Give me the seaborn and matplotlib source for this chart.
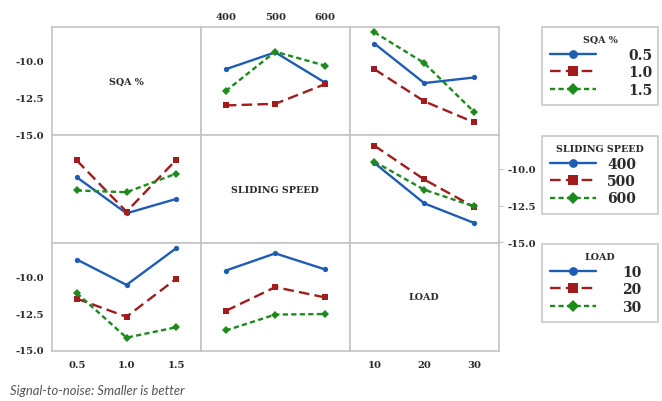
import numpy as np
import pandas as pd
import seaborn as sns
import matplotlib
matplotlib.use("Agg")
import matplotlib.pyplot as plt
from matplotlib.lines import Line2D
from matplotlib.ticker import FixedLocator, FixedFormatter, NullLocator

sns.set_style("white")
plt.rcParams['font.family'] = ['DejaVu Sans']

# ---------------- data ----------------
factor_names = ["SQA %", "SLIDING SPEED", "LOAD"]
sqa_levels = [0.5, 1.0, 1.5]
speed_levels = [400, 500, 600]
load_levels = [10, 20, 30]
sqa_labels = ["0.5", "1.0", "1.5"]
speed_labels = ["400", "500", "600"]
load_labels = ["10", "20", "30"]

# mean S/N ratio, rows = first factor level, cols = second factor level
sqa_speed = [[-10.57, -9.42, -11.47],
             [-13.03, -12.92, -11.59],
             [-12.05, -9.38, -10.32]]
sqa_load = [[-8.83, -11.51, -11.13],
            [-10.57, -12.75, -14.18],
            [-8.06, -10.15, -13.47]]
speed_load = [[-9.59, -12.35, -13.69],
              [-8.41, -10.72, -12.60],
              [-9.50, -11.42, -12.56]]

y_ticks = [-10.0, -12.5, -15.0]
y_tick_labels = ["-10.0", "-12.5", "-15.0"]
footnote = "Signal-to-noise: Smaller is better"

levels = [sqa_levels, speed_levels, load_levels]
level_labels = [sqa_labels, speed_labels, load_labels]
tables = {(0, 1): np.array(sqa_speed), (0, 2): np.array(sqa_load),
          (1, 2): np.array(speed_load)}

def table_for(line_f, x_f):
    if (line_f, x_f) in tables:
        return tables[(line_f, x_f)]
    return tables[(x_f, line_f)].T

# ---------------- style ----------------
colors = ['#1f5cb4', '#a11c1c', '#1c8a1c']
markers = ['o', 's', 'D']
dash_styles = ["", (4.5, 2.2), (2.2, 1.4)]
msizes = [3.8, 4.3, 4.0]
lw = 1.7
spine_col = '#c4c4c4'
txt_col = '#2a2a2a'

W, H = 662, 402
fig = plt.figure(figsize=(W / 100, H / 100), dpi=100)

col_edges = [52, 201, 349.5, 499]
row_edges = [28, 136.3, 244, 351.5]
xlims = [(0.25, 1.75), (350, 650), (5, 35)]
ylim = (-15.06, -7.7)

tick_font = dict(family='DejaVu Serif', weight='bold', size=7.2, color=txt_col)

axes = {}
for r in range(3):
    for c in range(3):
        x0 = col_edges[c] / W
        w = (col_edges[c + 1] - col_edges[c]) / W
        y0 = 1 - row_edges[r + 1] / H
        h = (row_edges[r + 1] - row_edges[r]) / H
        ax = fig.add_axes([x0, y0, w, h])
        axes[(r, c)] = ax
        ax.set_xlim(*xlims[c])
        ax.set_ylim(*ylim)
        for s in ax.spines.values():
            s.set_color(spine_col)
            s.set_linewidth(1.2)
        ax.xaxis.set_major_locator(NullLocator())
        ax.yaxis.set_major_locator(NullLocator())
        ax.set_facecolor('white')
        if r == c:
            ax.text(0.5, 0.5, factor_names[r], transform=ax.transAxes,
                    ha='center', va='center', family='DejaVu Serif',
                    weight='bold', size=6.8, color=txt_col)
            continue
        tab = table_for(r, c)
        rows = []
        for i, lvl in enumerate(levels[r]):
            for j, xv in enumerate(levels[c]):
                rows.append({"x": xv, "sn": tab[i, j], "grp": level_labels[r][i]})
        df = pd.DataFrame(rows)
        for i, g in enumerate(level_labels[r]):
            sub = df[df.grp == g]
            sns.lineplot(data=sub, x="x", y="sn", ax=ax, color=colors[i],
                         marker=markers[i], markersize=msizes[i],
                         markeredgewidth=0, linewidth=lw,
                         errorbar=None, legend=False)
            if dash_styles[i] == "":
                ax.lines[-1].set_linestyle('-')
            else:
                ax.lines[-1].set_dashes(dash_styles[i])
        ax.set_xlabel("")
        ax.set_ylabel("")
        ax.set_xlim(*xlims[c])
        ax.set_ylim(*ylim)
        ax.xaxis.set_major_locator(NullLocator())
        ax.yaxis.set_major_locator(NullLocator())

def set_yticks(ax, side):
    ax.yaxis.set_major_locator(FixedLocator(y_ticks))
    ax.yaxis.set_major_formatter(FixedFormatter(y_tick_labels))
    if side == 'right':
        ax.yaxis.tick_right()
    ax.tick_params(axis='y', length=3, width=0.8, color=spine_col, pad=3)
    for t in ax.get_yticklabels():
        t.set(**tick_font)

def set_xticks(ax, c, side):
    ax.xaxis.set_major_locator(FixedLocator(levels[c]))
    ax.xaxis.set_major_formatter(FixedFormatter(level_labels[c]))
    if side == 'top':
        ax.xaxis.tick_top()
        ax.tick_params(axis='x', length=0, pad=4)
    else:
        ax.tick_params(axis='x', length=3, width=0.8, color=spine_col, pad=4)
    for t in ax.get_xticklabels():
        t.set(**tick_font)

set_yticks(axes[(0, 0)], 'left')
set_yticks(axes[(2, 0)], 'left')
set_yticks(axes[(1, 2)], 'right')
set_xticks(axes[(2, 0)], 0, 'bottom')
set_xticks(axes[(0, 1)], 1, 'top')
set_xticks(axes[(2, 2)], 2, 'bottom')

# ---------------- legends ----------------
leg_tops = [28, 136.7, 245]
leg_pads = [2.3, 0.8, 1.9]
for r in range(3):
    handles = []
    for i in range(3):
        hl = Line2D([], [], color=colors[i], marker=markers[i], markersize=msizes[i] + 2.5,
                    markeredgewidth=0, linewidth=lw)
        if dash_styles[i] == "":
            hl.set_linestyle('-')
        else:
            hl.set_dashes(dash_styles[i])
        handles.append(hl)
    leg = fig.legend(handles, level_labels[r], title=factor_names[r],
                     loc='upper left',
                     bbox_to_anchor=(542 / W, 1 - leg_tops[r] / H, 116 / W, 0.0),
                     mode='expand', borderaxespad=0, handlelength=3.3,
                     handletextpad=leg_pads[r], labelspacing=0.25,
                     borderpad=0.6, fancybox=False, framealpha=1,
                     prop=dict(family='DejaVu Serif', weight='bold', size=10),
                     title_fontproperties=dict(family='DejaVu Serif', weight='bold', size=6.8))
    leg.get_frame().set_edgecolor('#c8c8c8')
    leg.get_frame().set_linewidth(1.2)
    for t in leg.get_texts():
        t.set_color(txt_col)
    leg.get_title().set_color(txt_col)

fig.text(10 / W, 1 - 391 / H, footnote, family='Lato', style='italic',
         size=9.4, color='#555555', ha='left', va='center')

fig.savefig("out.png", dpi=100)
